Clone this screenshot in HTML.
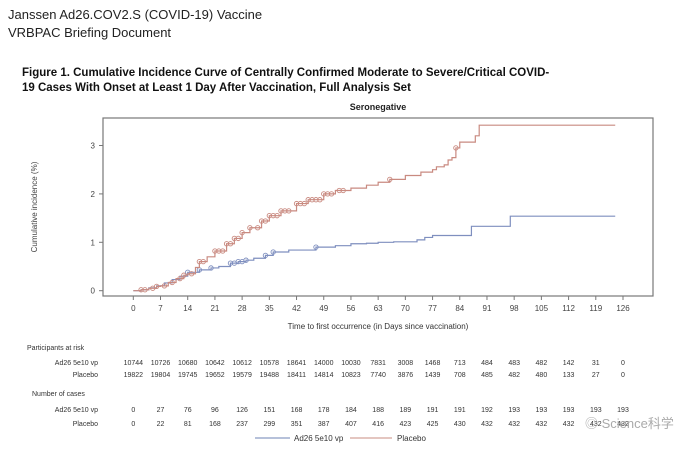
<!DOCTYPE html>
<html><head><meta charset="utf-8"><style>
body{margin:0;background:#fff;font-family:"Liberation Sans",sans-serif}
svg{display:block}
</style></head><body>
<svg width="700" height="457" xmlns="http://www.w3.org/2000/svg" font-family="Liberation Sans, Noto Sans CJK SC, sans-serif">
<text x="8" y="19" font-size="13" fill="#222">Janssen Ad26.COV2.S (COVID-19) Vaccine</text>
<text x="8" y="37" font-size="13" fill="#222">VRBPAC Briefing Document</text>
<text x="22" y="76" font-size="11.5" font-weight="bold" fill="#111">Figure 1. Cumulative Incidence Curve of Centrally Confirmed Moderate to Severe/Critical COVID-</text>
<text x="22" y="91" font-size="11.5" font-weight="bold" fill="#111">19 Cases With Onset at Least 1 Day After Vaccination, Full Analysis Set</text>
<text x="378" y="110" font-size="9" font-weight="bold" text-anchor="middle" fill="#222">Seronegative</text>
<rect x="103" y="118" width="550" height="178" fill="none" stroke="#777" stroke-width="1.2"/>
<g id="axes"></g>
<g id="series"></g>
<text transform="translate(37,207) rotate(-90)" font-size="8" text-anchor="middle" fill="#444">Cumulative incidence (%)</text>
<text x="378" y="329" font-size="8" text-anchor="middle" fill="#333">Time to first occurrence (in Days since vaccination)</text>
<g id="table" font-size="7" fill="#333"></g>
<line x1="255" y1="438" x2="290" y2="438" stroke="#8a9cc4" stroke-width="1.2"/>
<text x="294" y="441" font-size="8" fill="#333">Ad26 5e10 vp</text>
<line x1="350" y1="438" x2="392" y2="438" stroke="#d4a49a" stroke-width="1.2"/>
<text x="397" y="441" font-size="8" fill="#333">Placebo</text>
<text x="585" y="428" font-size="13" fill="#aaa">◎ Science科学</text>
</svg>
<script>
const xTicks=[0,7,14,21,28,35,42,49,56,63,70,77,84,91,98,105,112,119,126];
const yTicks=[0,1,2,3];
const adDays=[0,2,4,6,8,10,12,14,17,20,22,25,27,29,31,34,36,40,47,52,56,60,63,67,73,75,77,87,97,124];
const adVals=[0,0.02,0.06,0.1,0.16,0.23,0.3,0.38,0.43,0.47,0.5,0.57,0.6,0.63,0.67,0.73,0.8,0.84,0.9,0.93,0.97,0.98,1.0,1.01,1.05,1.1,1.14,1.33,1.54,1.54];
const plDays=[0,2,4,6,7,9,11,13,14,16,17,19,21,24,26,28,30,33,35,38,42,45,49,52,56,60,63,66,70,74,77,78,80,81,82,83,84,88,89,124];
const plVals=[0,0.02,0.05,0.09,0.1,0.17,0.25,0.32,0.35,0.48,0.6,0.7,0.82,0.97,1.08,1.2,1.3,1.44,1.55,1.65,1.8,1.88,2.0,2.07,2.12,2.18,2.24,2.3,2.38,2.45,2.5,2.56,2.6,2.7,2.75,2.95,3.07,3.2,3.42,3.42];
const adCens=[14,17,20,25,26,27,28,29,34,36,47];
const plCens=[2,3,5,6,8,10,12,13,15,17,18,21,22,23,24,25,26,27,28,30,32,33,34,35,36,37,38,39,40,42,43,44,45,46,47,48,49,50,51,53,54,66,83];
const riskAd=[10744,10726,10680,10642,10612,10578,18641,14000,10030,7831,3008,1468,713,484,483,482,142,31,0];
const riskPl=[19822,19804,19745,19652,19579,19488,18411,14814,10823,7740,3876,1439,708,485,482,480,133,27,0];
const casesAd=[0,27,76,96,126,151,168,178,184,188,189,191,191,192,193,193,193,193,193];
const casesPl=[0,22,81,168,237,299,351,387,407,416,423,425,430,432,432,432,432,432,432];
const NS='http://www.w3.org/2000/svg';
const X=d=>133.3+d*(623-133.3)/126;
const Y=v=>290.7-v*48.4;
function mk(tag,attrs,parent){const e=document.createElementNS(NS,tag);for(const k in attrs)e.setAttribute(k,attrs[k]);parent.appendChild(e);return e;}
const ax=document.getElementById('axes');
xTicks.forEach(t=>{
  const l=mk('line',{x1:X(t),x2:X(t),y1:296,y2:300,stroke:'#777'},ax);
  
  
  const tx=mk('text',{x:X(t),y:311,'font-size':8,'text-anchor':'middle',fill:'#444'},ax);tx.textContent=t;
  
  
});
yTicks.forEach(t=>{
  const l=mk('line',{x1:99,x2:103,y1:Y(t),y2:Y(t),stroke:'#777'},ax);
  
  
  const tx=mk('text',{x:95,y:Y(t)+3,'font-size':8,'text-anchor':'end',fill:'#444'},ax);tx.textContent=t;
  
  
});
const sg=document.getElementById('series');
function valAt(days,vals,d){let v=0;for(let i=0;i<days.length;i++){if(days[i]<=d)v=vals[i];}return v;}
function drawStep(days,vals,cens,col,name){
  let p='M'+X(days[0])+','+Y(vals[0]);
  for(let i=1;i<days.length;i++){p+=' H'+X(days[i])+' V'+Y(vals[i]);}
  const path=mk('path',{d:p,fill:'none',stroke:col,'stroke-width':1.2},sg);
  
  
  cens.forEach(d=>{
    const c=mk('circle',{cx:X(d),cy:Y(valAt(days,vals,d)),r:2.2,fill:'none',stroke:col,'stroke-width':0.9},sg);
    
    
  });
}
drawStep(adDays,adVals,adCens,'#7f8fbf','ad26');
drawStep(plDays,plVals,plCens,'#c98a80','placebo');
const tb=document.getElementById('table');
function lbl(txt,x,y,anchor,name){const t=mk('text',{x:x,y:y,'text-anchor':anchor},tb);t.textContent=txt;
  
  }
lbl('Participants at risk',27,350,'start','risk-header');
lbl('Ad26 5e10 vp',98,365,'end','risk-label-ad26');
lbl('Placebo',98,377,'end','risk-label-placebo');
lbl('Number of cases',32,396,'start','cases-header');
lbl('Ad26 5e10 vp',98,412,'end','cases-label-ad26');
lbl('Placebo',98,426,'end','cases-label-placebo');
function row(arr,y,name){arr.forEach((v,i)=>lbl(String(v),X(xTicks[i]),y,'middle',name));}
row(riskAd,365,'risk-ad26-value');
row(riskPl,377,'risk-placebo-value');
row(casesAd,412,'cases-ad26-value');
row(casesPl,426,'cases-placebo-value');
</script>
</body></html>
